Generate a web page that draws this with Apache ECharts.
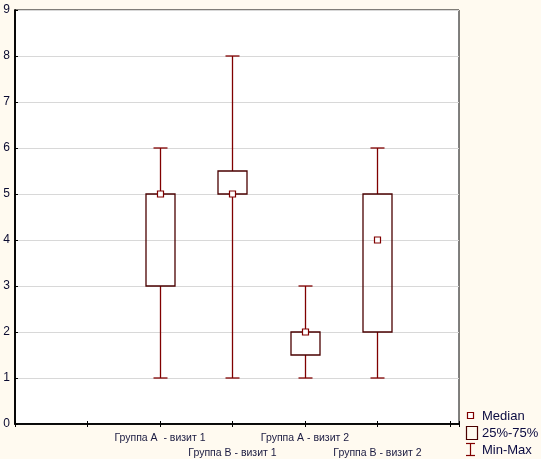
<!DOCTYPE html>
<html>
<head>
<meta charset="utf-8">
<script src="https://cdn.jsdelivr.net/npm/echarts@6/dist/echarts.min.js"></script>
<style>
  html, body { margin: 0; padding: 0; background: #fffaf0; }
  #chart { width: 541px; height: 459px; }
</style>
</head>
<body>
<div id="chart"></div>
<script>
// группы (позиции по оси X)
const categories = ['Группа А  - визит 1', 'Группа В - визит 1', 'Группа А - визит 2', 'Группа В - визит 2'];
const positions = [2, 3, 4, 5];
const minValues = [1, 1, 1, 1];
const q1Values = [3, 5, 1.5, 2];
const medianValues = [5, 5, 2, 4];
const q3Values = [5, 5.5, 2, 5];
const maxValues = [6, 8, 3, 6];
const yTicks = [0, 1, 2, 3, 4, 5, 6, 7, 8, 9];

const whiskerColor = '#800000';
const boxColor = '#4a0000';

const boxData = positions.map((p, i) => [p, minValues[i], q1Values[i], medianValues[i], q3Values[i], maxValues[i]]);

function renderBox(params, api) {
    const x = api.value(0);
    const pMin = api.coord([x, api.value(1)]);
    const pQ1 = api.coord([x, api.value(2)]);
    const pMed = api.coord([x, api.value(3)]);
    const pQ3 = api.coord([x, api.value(4)]);
    const pMax = api.coord([x, api.value(5)]);
    const cx = Math.round(pMin[0]) + 0.5;
    const halfBox = 14.5;
    const halfCap = 7;
    const lineStyle = { stroke: whiskerColor, lineWidth: 1.3 };
    const children = [
        { type: 'line', shape: { x1: cx, y1: pMin[1], x2: cx, y2: pQ1[1] }, style: lineStyle },
        { type: 'line', shape: { x1: cx, y1: pQ3[1], x2: cx, y2: pMax[1] }, style: lineStyle },
        { type: 'line', shape: { x1: cx - halfCap, y1: pMin[1], x2: cx + halfCap, y2: pMin[1] }, style: lineStyle },
        { type: 'line', shape: { x1: cx - halfCap, y1: pMax[1], x2: cx + halfCap, y2: pMax[1] }, style: lineStyle },
        {
            type: 'rect',
            shape: { x: cx - halfBox, y: pQ3[1], width: halfBox * 2, height: pQ1[1] - pQ3[1] },
            style: { fill: 'none', stroke: boxColor, lineWidth: 1.3 }
        },
        {
            type: 'rect',
            shape: { x: cx - 3, y: pMed[1] - 3, width: 6, height: 6 },
            style: { fill: '#ffffff', stroke: whiskerColor, lineWidth: 1.2 }
        }
    ];
    return { type: 'group', children: children };
}

const chart = echarts.init(document.getElementById('chart'));

const fontFamily = 'Arial, "Liberation Sans", sans-serif';

const option = {
    backgroundColor: '#fffaf0',
    animation: false,
    grid: {
        left: 15, right: 82, top: 10, bottom: 35,
        outerBoundsMode: 'none', containLabel: false,
        show: true, backgroundColor: '#ffffff', borderColor: '#000', borderWidth: 1
    },
    xAxis: [
        {
            type: 'value', position: 'bottom', min: 0, max: 6.125, interval: 1,
            axisLine: { show: true, lineStyle: { color: '#000', width: 1.5 } },
            axisTick: { show: true, inside: true, length: 3, lineStyle: { color: '#000' } },
            splitLine: { show: false },
            axisLabel: {
                show: true, margin: 7, color: '#1a1a40', fontSize: 10.5, lineHeight: 15,
                fontFamily: fontFamily,
                formatter: function (v) {
                    const idx = positions.indexOf(v);
                    if (idx < 0) return '';
                    return idx % 2 === 1 ? '\n' + categories[idx] : categories[idx];
                }
            }
        },
        {
            type: 'value', position: 'top', min: 0, max: 6.125, interval: 1,
            axisLine: { show: true, lineStyle: { color: '#000', width: 1.5 } },
            axisTick: { show: true, inside: true, length: 3, lineStyle: { color: '#000' } },
            splitLine: { show: false },
            axisLabel: { show: false }
        }
    ],
    yAxis: [
        {
            type: 'value', position: 'left', min: yTicks[0], max: yTicks[yTicks.length - 1], interval: 1,
            axisLine: { show: true, lineStyle: { color: '#000', width: 1.5 } },
            axisTick: { show: false },
            splitLine: { show: true, lineStyle: { color: '#d8d8d8', width: 1 } },
            axisLabel: { margin: 5, color: '#0a0a30', fontSize: 12, fontFamily: fontFamily }
        },
        {
            type: 'value', position: 'right', min: yTicks[0], max: yTicks[yTicks.length - 1], interval: 1,
            axisLine: { show: true, lineStyle: { color: '#000', width: 1.5 } },
            axisTick: { show: true, inside: false, length: 3, lineStyle: { color: '#000' } },
            splitLine: { show: false },
            axisLabel: { show: false }
        }
    ],
    series: [
        {
            type: 'custom',
            name: 'box',
            xAxisIndex: 0,
            yAxisIndex: 0,
            renderItem: renderBox,
            encode: { x: 0, y: [1, 2, 3, 4, 5] },
            data: boxData,
            z: 5
        }
    ],
    // легенда в стиле Statistica
    graphic: [
        { type: 'rect', shape: { x: 467.5, y: 412.5, width: 6, height: 6 }, style: { fill: '#fff', stroke: whiskerColor, lineWidth: 1.2 } },
        { type: 'text', x: 482, y: 416, style: { text: 'Median', font: '13px Arial, sans-serif', fill: '#0a0a40', verticalAlign: 'middle' } },
        { type: 'rect', shape: { x: 466.5, y: 426.5, width: 11, height: 13 }, style: { fill: 'none', stroke: boxColor, lineWidth: 1.2 } },
        { type: 'text', x: 482, y: 433, style: { text: '25%-75%', font: '13px Arial, sans-serif', fill: '#0a0a40', verticalAlign: 'middle' } },
        { type: 'line', shape: { x1: 466, y1: 443.5, x2: 475, y2: 443.5 }, style: { stroke: whiskerColor, lineWidth: 1.2 } },
        { type: 'line', shape: { x1: 470.5, y1: 443.5, x2: 470.5, y2: 455.5 }, style: { stroke: whiskerColor, lineWidth: 1.2 } },
        { type: 'line', shape: { x1: 466, y1: 455.5, x2: 475, y2: 455.5 }, style: { stroke: whiskerColor, lineWidth: 1.2 } },
        { type: 'text', x: 482, y: 450, style: { text: 'Min-Max', font: '13px Arial, sans-serif', fill: '#0a0a40', verticalAlign: 'middle' } }
    ]
};

chart.setOption(option);

window.addEventListener('resize', function () {
    chart.resize();
});
</script>
</body>
</html>
